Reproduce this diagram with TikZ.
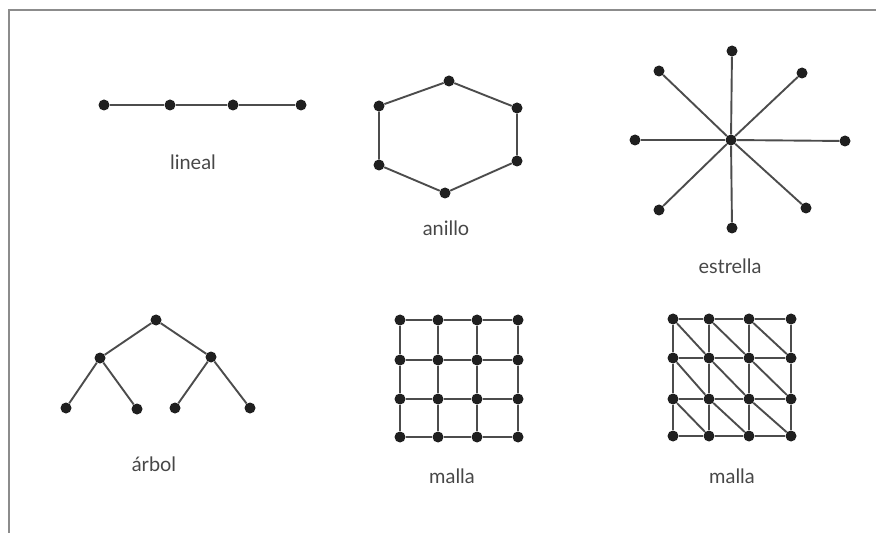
\documentclass[tikz,border=0pt]{standalone}
\usepackage{fontspec}
\setmainfont{Lato}
\begin{document}
\begin{tikzpicture}[x=1bp,y=-1bp,
  dot/.style={circle,fill=black!88,inner sep=0pt,minimum width=11bp,minimum height=11bp},
  edge/.style={draw=black!70,line width=1.9bp},
  lab/.style={text=black!72,font=\fontsize{20}{24}\selectfont},
  frame/.style={draw=black!45,line width=2bp}]
\useasboundingbox (0,0) rectangle (876,533);
\draw[frame] (876,10) -- (9,10) -- (9,533);
% lineal
\node[dot] (l1) at (104,105) {};
\node[dot] (l2) at (170,105) {};
\node[dot] (l3) at (233,105) {};
\node[dot] (l4) at (301,105) {};
\draw[edge] (l1) -- (l2) -- (l3) -- (l4);
\node[lab] (tl) at (193,162) {lineal};
% anillo
\node[dot] (a1) at (449,81) {};
\node[dot] (a2) at (517,108) {};
\node[dot] (a3) at (517,161) {};
\node[dot] (a4) at (445,193) {};
\node[dot] (a5) at (379,165) {};
\node[dot] (a6) at (379,106) {};
\draw[edge] (a1) -- (a2) -- (a3) -- (a4) -- (a5) -- (a6) -- (a1);
\node[lab] (ta) at (446,228) {anillo};
% estrella
\node[dot] (ec) at (731,140) {};
\node[dot] (e1) at (732,51) {};
\node[dot] (e2) at (802,73) {};
\node[dot] (e3) at (845,141) {};
\node[dot] (e4) at (806,208) {};
\node[dot] (e5) at (732,228) {};
\node[dot] (e6) at (659,210) {};
\node[dot] (e7) at (635,140) {};
\node[dot] (e8) at (659,71) {};
\foreach \i in {1,...,8} \draw[edge] (ec) -- (e\i);
\node[lab] (te) at (730,266) {estrella};
% arbol
\node[dot] (r0) at (156,320) {};
\node[dot] (r1) at (100,358) {};
\node[dot] (r2) at (211,357) {};
\node[dot] (r3) at (66,408) {};
\node[dot] (r4) at (137,409) {};
\node[dot] (r5) at (175,408) {};
\node[dot] (r6) at (250,408) {};
\draw[edge] (r0) -- (r1) (r0) -- (r2) (r1) -- (r3) (r1) -- (r4) (r2) -- (r5) (r2) -- (r6);
\node[lab] (tr) at (154,464) {árbol};
% malla 1
\foreach \c/\x in {0/400,1/438,2/477,3/518}
  \foreach \r/\y in {0/320,1/360,2/399,3/437}
    \node[dot] (m\c\r) at (\x,\y) {};
\foreach \a/\b in {0/1,1/2,2/3}
  \foreach \k in {0,1,2,3} {
    \draw[edge] (m\a\k) -- (m\b\k);
    \draw[edge] (m\k\a) -- (m\k\b);
  }
\node[lab] (tm1) at (452,476) {malla};
% malla 2
\foreach \c/\x in {0/673,1/709,2/749,3/791}
  \foreach \r/\y in {0/319,1/358,2/399,3/436}
    \node[dot] (n\c\r) at (\x,\y) {};
\foreach \a/\b in {0/1,1/2,2/3} {
  \foreach \k in {0,1,2,3} {
    \draw[edge] (n\a\k) -- (n\b\k);
    \draw[edge] (n\k\a) -- (n\k\b);
  }
  \foreach \s/\t in {0/1,1/2,2/3}
    \draw[edge] (n\a\s) -- (n\b\t);
}
\node[lab] (tm2) at (732,476) {malla};
\end{tikzpicture}
\end{document}
